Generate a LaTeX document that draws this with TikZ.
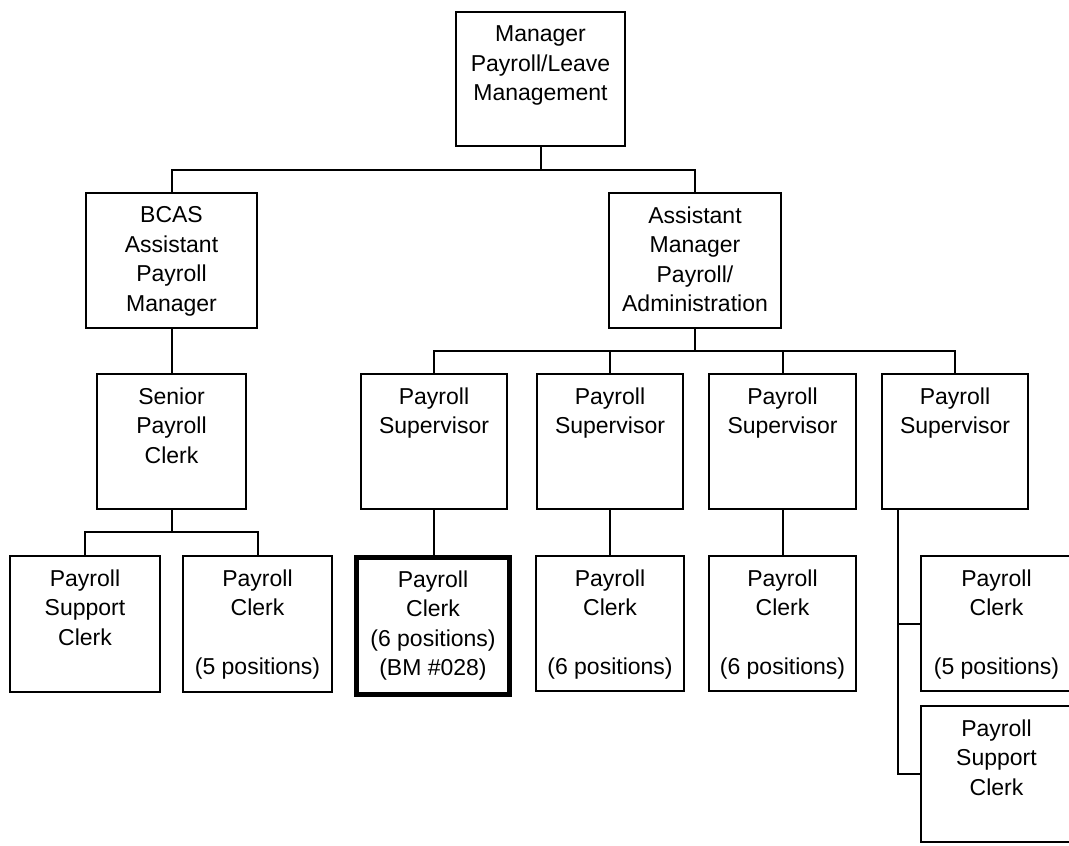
\documentclass[tikz,border=0pt]{standalone}
\usepackage{fontspec}
\setmainfont{Liberation Sans}
\tikzset{
  orgbox/.style={draw=black, line width=2pt, fill=white, inner sep=0pt, outer sep=0pt},
  thickbox/.style={orgbox, line width=5pt},
  lbl/.style={align=center, inner sep=0pt, font=\fontsize{23}{29.5}\selectfont, anchor=north},
  conn/.style={draw=black, line width=2pt},
}
\newcommand\obox[7]{%
  \node[#6, minimum width={#4-#2}, minimum height={#5-#3}] (#1) at ({(#2+#4)/2},{(#3+#5)/2}) {};
  \node[lbl] (#1-t) at ([yshift=-13.5pt]#1.north) {#7};}
\begin{document}
\begin{tikzpicture}[x=1pt,y=-1pt]
\fill[white] (0,0) rectangle (1069,846);
\useasboundingbox (0,0) rectangle (1069,846);
\obox{top}{456}{12}{625}{146}{orgbox}{Manager\\Payroll/Leave\\Management}
\obox{bcas}{86}{193}{257}{328}{orgbox}{BCAS\\Assistant\\Payroll\\Manager}
\obox{asst}{609}{193}{781}{328}{orgbox}{Assistant\\Manager\\Payroll/\\Administration}
\obox{senior}{97}{374}{246}{509}{orgbox}{Senior\\Payroll\\Clerk}
\obox{sup1}{361}{374}{507}{509}{orgbox}{Payroll\\Supervisor}
\obox{sup2}{537}{374}{683}{509}{orgbox}{Payroll\\Supervisor}
\obox{sup3}{709}{374}{856}{509}{orgbox}{Payroll\\Supervisor}
\obox{sup4}{882}{374}{1028}{509}{orgbox}{Payroll\\Supervisor}
\obox{pscL}{10}{556}{160}{692}{orgbox}{Payroll\\Support\\Clerk}
\obox{pcL}{183}{556}{332}{692}{orgbox}{Payroll\\Clerk\\[29.5pt](5 positions)}
\obox{bm}{356.5}{557}{509.5}{694.5}{thickbox}{Payroll\\Clerk\\(6 positions)\\(BM \#028)}
\obox{pca}{536}{556}{684}{691}{orgbox}{Payroll\\Clerk\\[29.5pt](6 positions)}
\obox{pcb}{709}{556}{856}{691}{orgbox}{Payroll\\Clerk\\[29.5pt](6 positions)}
\obox{pcr}{921}{556}{1072}{691}{orgbox}{Payroll\\Clerk\\[29.5pt](5 positions)}
\obox{pscr}{921}{706}{1072}{842}{orgbox}{Payroll\\Support\\Clerk}
\coordinate (b1) at (0,170);
\coordinate (b2) at (0,351);
\coordinate (b3) at (0,532);
% level 1
\draw[conn] (top.south) -- (top.south |- b1);
\draw[conn] (bcas.north) |- (top.south |- b1) -| (asst.north);
% left branch
\draw[conn] (bcas.south) -- (senior.north);
\draw[conn] (senior.south) -- (senior.south |- b3);
\draw[conn] (pscL.north) |- (senior.south |- b3) -| (pcL.north);
% supervisors
\draw[conn] (asst.south) -- (asst.south |- b2);
\draw[conn] (sup1.north) |- (sup4.north |- b2) -- (sup4.north);
\draw[conn] (sup2.north) -- (sup2.north |- b2);
\draw[conn] (sup3.north) -- (sup3.north |- b2);
% clerks
\draw[conn] (sup1.south) -- (sup1.south |- bm.north);
\draw[conn] (sup2.south) -- (pca.north);
\draw[conn] (sup3.south) -- (pcb.north);
\coordinate (s4) at ([xshift=16pt]sup4.south west);
\draw[conn] (s4) |- (pscr.west);
\draw[conn] (s4 |- pcr.west) -- (pcr.west);
\end{tikzpicture}
\end{document}
